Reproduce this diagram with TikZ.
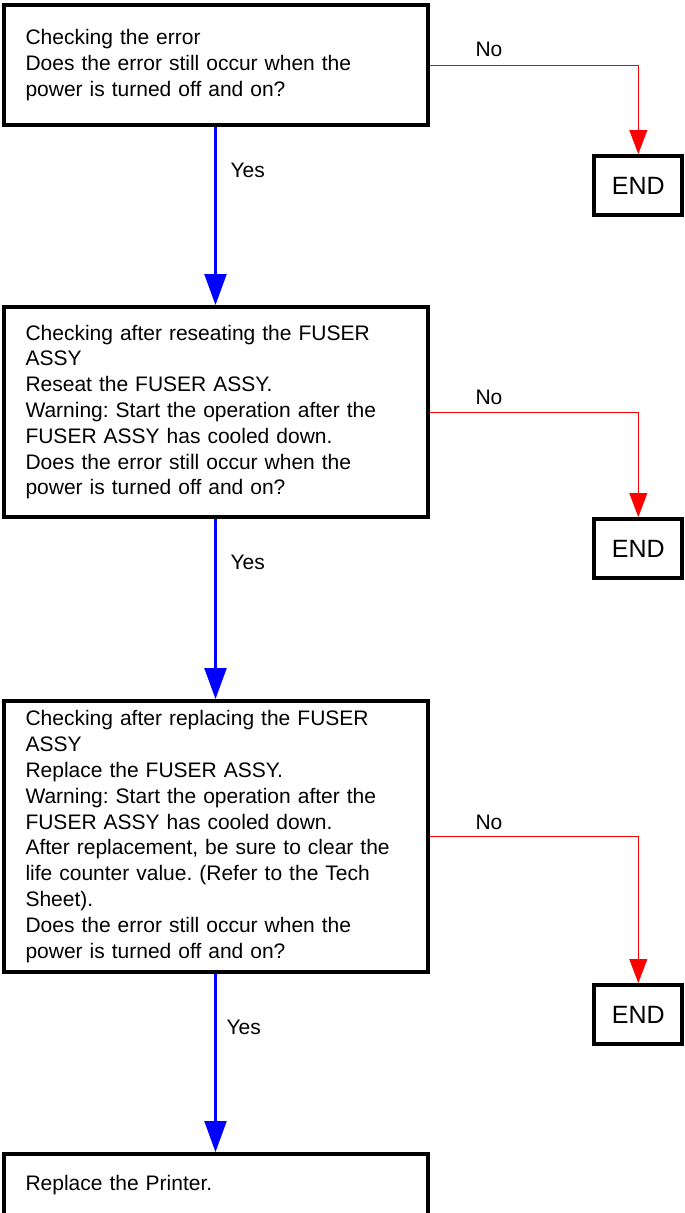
\documentclass[tikz,border=0pt]{standalone}
\usepackage{fontspec}
\setmainfont{Liberation Sans}
\usetikzlibrary{arrows.meta}
\frenchspacing

\tikzset{
  chkbox/.style={draw, line width=4pt, minimum width=424pt, text width=380pt,
    inner xsep=22pt, inner ysep=0pt, align=left,
    font=\fontsize{21}{25.8}\selectfont},
  endbox/.style={draw, line width=4pt, minimum width=88pt, minimum height=59pt,
    font=\fontsize{25}{30}\selectfont},
  lbl/.style={anchor=west, font=\fontsize{21}{24}\selectfont},
  yesarrow/.style={draw=blue, line width=2.2pt, -{Triangle[length=31pt,width=22pt]}, blue},
  noarrow/.style={draw=red, line width=0.8pt, -{Triangle[length=24pt,width=18pt]}, red}
}

\begin{document}
\begin{tikzpicture}[x=1pt, y=-1pt]
\useasboundingbox (0,0) rectangle (685,1213);

% decision boxes
\node[chkbox, minimum height=120pt] (chk1) at (215.5,65) {Checking the error\\
Does the error still occur when the\\
power is turned off and on?};

\node[chkbox, minimum height=210pt] (chk2) at (215.5,412) {Checking after reseating the FUSER\\
ASSY\\
Reseat the FUSER ASSY.\\
Warning: Start the operation after the\\
FUSER ASSY has cooled down.\\
Does the error still occur when the\\
power is turned off and on?};

\node[chkbox, minimum height=271pt] (chk3) at (215.5,836.5) {Checking after replacing the FUSER\\
ASSY\\
Replace the FUSER ASSY.\\
Warning: Start the operation after the\\
FUSER ASSY has cooled down.\\
After replacement, be sure to clear the\\
life counter value. (Refer to the Tech\\
Sheet).\\
Does the error still occur when the\\
power is turned off and on?};

\node[chkbox, minimum height=62pt] (repl) at (215.5,1185) {Replace the Printer.};

% end boxes
\node[endbox] (end1) at (638.3,185.5) {END};
\node[endbox] (end2) at (638.3,548.5) {END};
\node[endbox] (end3) at (638.3,1014.5) {END};

% yes
\draw[yesarrow] (chk1.south) -- (chk2.north);
\draw[yesarrow] (chk2.south) -- (chk3.north);
\draw[yesarrow] (chk3.south) -- (repl.north);
\node[lbl] (yes1) at (227,170) {Yes};
\node[lbl] (yes2) at (227,562) {Yes};
\node[lbl] (yes3) at (223,1027) {Yes};

% no
\draw[noarrow] (chk1.east) -| (end1.north);
\draw[noarrow] (chk2.east) -| (end2.north);
\draw[noarrow] (chk3.east) -| (end3.north);
\node[lbl] (no1) at (472,49) {No};
\node[lbl] (no2) at (472,397) {No};
\node[lbl] (no3) at (472,822) {No};
\end{tikzpicture}
\end{document}
